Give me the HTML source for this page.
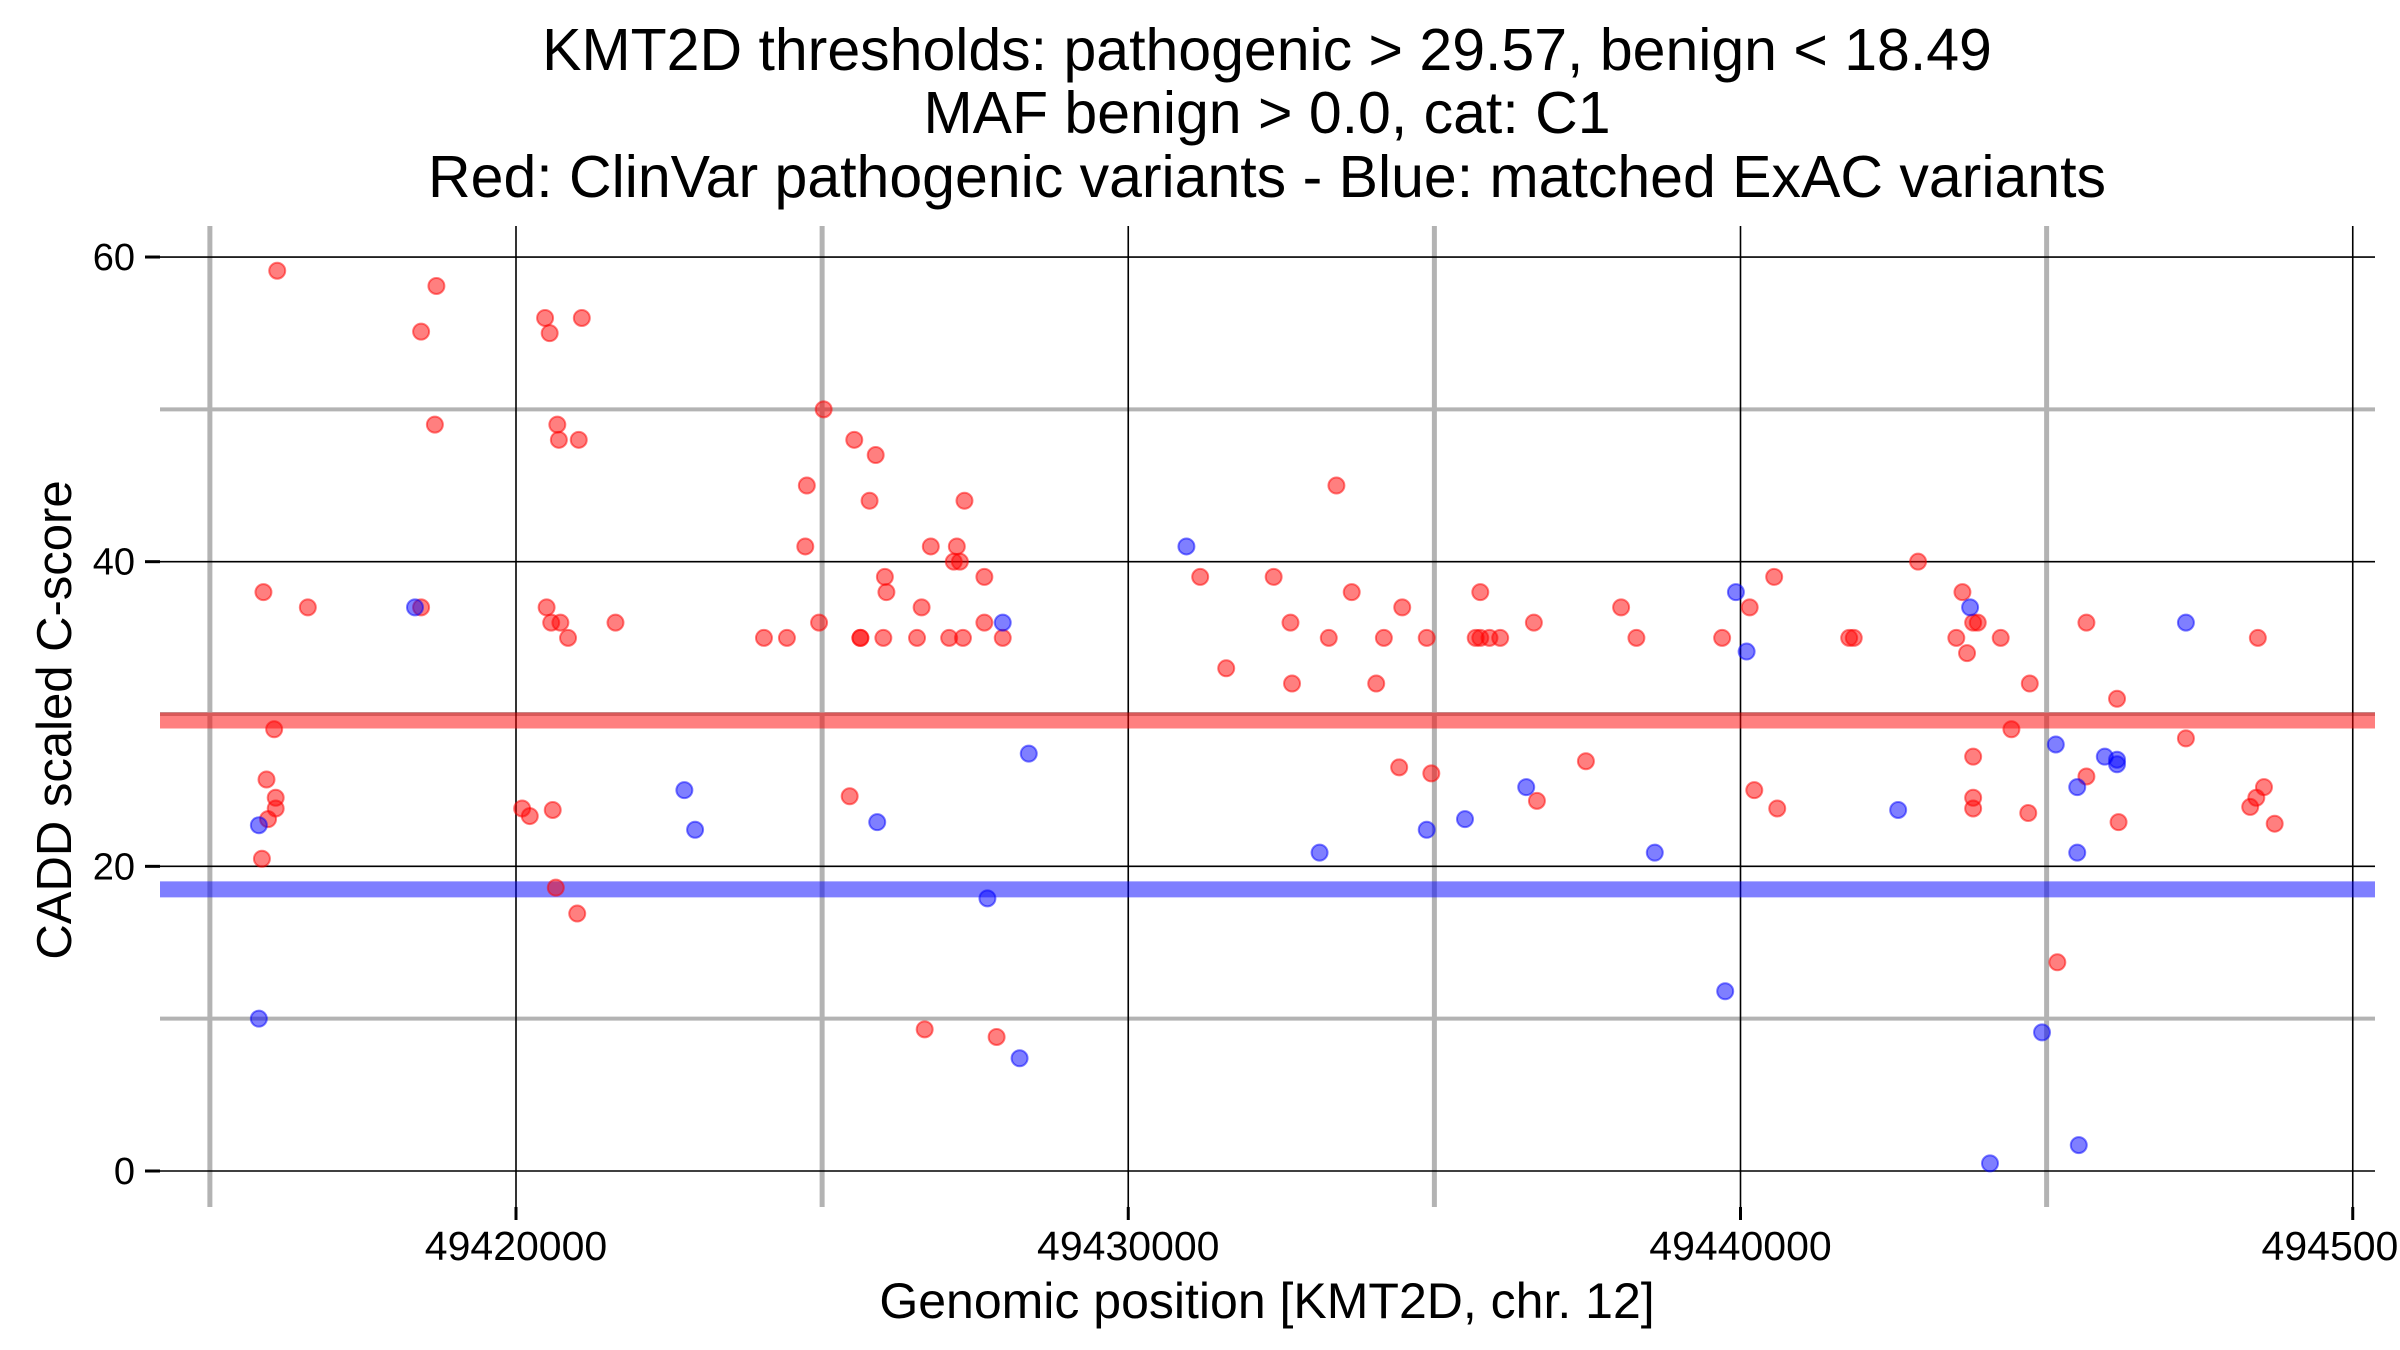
<!DOCTYPE html>
<html><head><meta charset="utf-8"><style>
html,body{margin:0;padding:0;background:#fff}
svg{display:block;font-family:"Liberation Sans",sans-serif}
</style></head><body>
<svg id="chart" width="2400" height="1350" viewBox="0 0 2400 1350" xmlns="http://www.w3.org/2000/svg">
<rect width="2400" height="1350" fill="#fff"/>
<g id="grid"></g>
<g id="bands"></g>
<g id="points"></g>
<g id="axes"></g>
<g font-size="59" text-anchor="middle" fill="#000">
<text x="1267" y="70">KMT2D thresholds: pathogenic &gt; 29.57, benign &lt; 18.49</text>
<text x="1267" y="133">MAF benign &gt; 0.0, cat: C1</text>
<text x="1267" y="197">Red: ClinVar pathogenic variants - Blue: matched ExAC variants</text>
</g>
<text x="1267" y="1318" font-size="50" text-anchor="middle">Genomic position [KMT2D, chr. 12]</text>
<text x="0" y="0" font-size="49" text-anchor="middle" transform="translate(71,720) rotate(-90)">CADD scaled C-score</text>
</svg>
<script>
const xTicks=[49420000,49430000,49440000,49450000];
const xMinor=[49415000,49425000,49435000,49445000];
const yTicks=[0,20,40,60];
const yMinor=[10,30,50];
const pathThreshold=29.57;
const benignThreshold=18.49;
const redPos=[49416100,49418450,49418700,49418675,49415875,49416600,49418450,49416050,49415925,49416075,49416075,49415950,49415850,49420475,49420550,49421075,49420675,49420700,49421025,49420500,49420575,49420725,49420850,49421625,49420100,49420225,49420600,49420650,49421000,49425025,49424750,49424725,49424950,49424050,49424425,49425525,49425875,49425775,49426025,49426050,49425625,49425625,49426000,49426775,49427200,49427150,49427250,49427325,49427650,49426625,49427650,49426550,49427075,49427300,49427950,49425450,49426675,49427850,49431175,49431600,49432375,49432650,49432675,49433275,49433400,49433650,49434050,49434175,49434475,49434875,49434425,49434950,49435750,49435675,49435750,49435900,49436075,49436625,49436675,49437475,49438050,49438300,49439700,49440150,49440550,49440225,49440600,49441775,49441850,49442900,49443625,49443525,49443700,49443800,49443875,49444250,49444725,49444425,49443800,49443800,49443800,49444700,49445650,49445650,49445175,49446150,49446175,49447275,49448450,49448325,49448425,49448550,49448725];
const redVal=[59.1,55.1,58.1,49,38,37,37,29,25.7,24.5,23.8,23.1,20.5,56,55,56,49,48,48,37,36,36,35,36,23.8,23.3,23.7,18.6,16.9,50,45,41,36,35,35,48,47,44,39,38,35,35,35,41,41,40,40,44,39,37,36,35,35,35,35,24.6,9.3,8.8,39,33,39,36,32,35,45,38,32,35,37,35,26.5,26.1,38,35,35,35,35,36,24.3,26.9,37,35,35,37,39,25,23.8,35,35,40,38,35,34,36,36,35,32,29,27.2,24.5,23.8,23.5,36,25.9,13.7,31,22.9,28.4,35,23.9,24.5,25.2,22.8];
const bluePos=[49415800,49415800,49418350,49422750,49422925,49425900,49427950,49427700,49428375,49428225,49430950,49433125,49434875,49435500,49436500,49438600,49439750,49439925,49440100,49442575,49443750,49445150,49445500,49445500,49445950,49446150,49446150,49444925,49445525,49444075,49447275];
const blueVal=[22.7,10,37,25,22.4,22.9,36,17.9,27.4,7.4,41,20.9,22.4,23.1,25.2,20.9,11.8,38,34.1,23.7,37,28,25.2,20.9,27.2,27,26.7,9.1,1.7,0.5,36];

const NS='http://www.w3.org/2000/svg';
const L=160,R=2375,T=226,B=1207;
function xS(p){return 516+(p-49420000)*0.061225;}
function yS(v){return 1171-v*15.233;}
function mk(tag,attrs,parent){const e=document.createElementNS(NS,tag);for(const k in attrs)e.setAttribute(k,attrs[k]);parent.appendChild(e);return e;}
const grid=document.getElementById('grid'),bands=document.getElementById('bands'),pts=document.getElementById('points'),axes=document.getElementById('axes');
yMinor.forEach(v=>{const e=mk('line',{x1:L,x2:R,y1:yS(v),y2:yS(v),stroke:'#b3b3b3','stroke-width':4},grid);

});
xMinor.forEach(p=>{const e=mk('line',{x1:xS(p),x2:xS(p),y1:T,y2:B,stroke:'#b3b3b3','stroke-width':5},grid);

});
yTicks.forEach(v=>{const e=mk('line',{x1:L,x2:R,y1:yS(v),y2:yS(v),stroke:'#000','stroke-width':1.6},grid);


const t=mk('line',{x1:145,x2:L,y1:yS(v),y2:yS(v),stroke:'#000','stroke-width':3},axes);


const l=mk('text',{x:135,y:yS(v)+13,'font-size':38,'text-anchor':'end'},axes);l.textContent=v;

});
xTicks.forEach(p=>{const e=mk('line',{x1:xS(p),x2:xS(p),y1:T,y2:B,stroke:'#000','stroke-width':1.6},grid);


const t=mk('line',{x1:xS(p),x2:xS(p),y1:B,y2:B+13,stroke:'#000','stroke-width':3},axes);


const l=mk('text',{x:xS(p),y:1260,'font-size':41,'text-anchor':'middle'},axes);l.textContent=p;

});
const rb=mk('line',{x1:L,x2:R,y1:yS(pathThreshold),y2:yS(pathThreshold),stroke:'rgba(255,0,0,0.5)','stroke-width':16},bands);


const bb=mk('line',{x1:L,x2:R,y1:yS(benignThreshold),y2:yS(benignThreshold),stroke:'rgba(0,0,255,0.5)','stroke-width':16},bands);


redPos.forEach((p,i)=>{const c=mk('circle',{cx:xS(p),cy:yS(redVal[i]),r:8,fill:'rgba(255,0,0,0.5)',stroke:'rgba(255,0,0,0.5)','stroke-width':2},pts);

});
bluePos.forEach((p,i)=>{const c=mk('circle',{cx:xS(p),cy:yS(blueVal[i]),r:8,fill:'rgba(0,0,255,0.5)',stroke:'rgba(0,0,255,0.5)','stroke-width':2},pts);

});
</script>
</body></html>
